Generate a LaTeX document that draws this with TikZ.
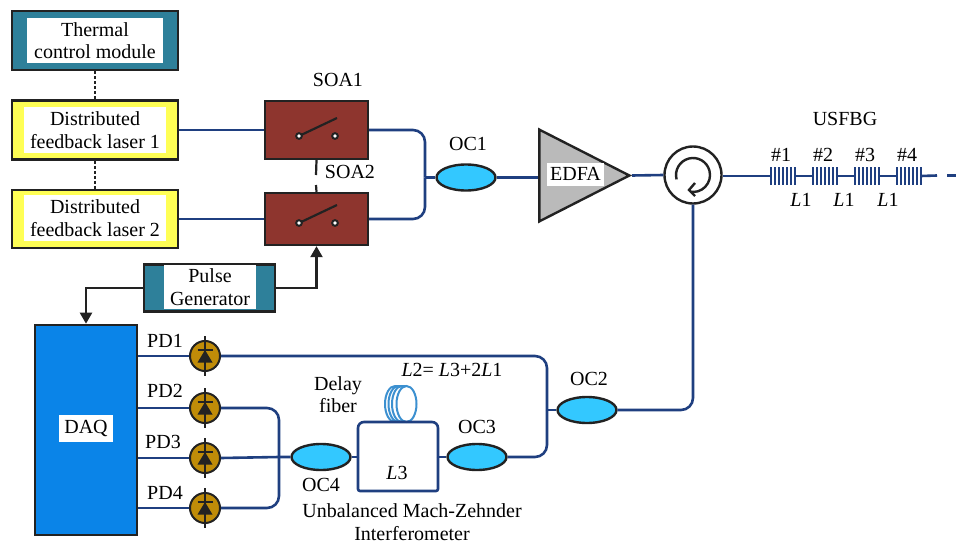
\documentclass[tikz,border=0pt]{standalone}
\usepackage{fontspec}
\setmainfont{Liberation Serif}
\usetikzlibrary{arrows.meta,shapes.geometric}
\definecolor{fibre}{HTML}{1F3F80}
\definecolor{teal1}{HTML}{2E809A}
\definecolor{yel}{HTML}{FFFF55}
\definecolor{brick}{HTML}{8E352E}
\definecolor{daqb}{HTML}{0A84E8}
\definecolor{ocb}{HTML}{33C8FF}
\definecolor{gold}{HTML}{C08C08}
\definecolor{coil}{HTML}{3C90D0}
\definecolor{edk}{HTML}{222222}
\tikzset{
 x=1pt,y=-1pt,
 lab/.style={font=\fontsize{20}{22.5}\selectfont,text=black,inner sep=0pt,align=center},
 wlab/.style={lab,fill=white},
 fiber/.style={draw=fibre,line width=2.6pt},
 blk/.style={draw=edk,line width=2.2pt},
 ctl/.style={draw=edk,line width=2.2pt,-{Triangle[length=11pt,width=12pt]}},
 dots/.style={draw=edk,line width=2.4pt,dash pattern=on 3pt off 2pt},
 boxbase/.style={draw=edk,line width=2.6pt,inner sep=0pt,minimum width=166pt},
 tealbox/.style={boxbase,fill=teal1},
 yelbox/.style={boxbase,fill=yel,minimum height=59pt},
 soa/.style={draw=edk,line width=2.4pt,fill=brick,minimum width=103pt,inner sep=0pt},
 oc/.style={ellipse,draw=edk,line width=2.4pt,fill=ocb,minimum width=59pt,minimum height=26pt,inner sep=0pt},
 pd/.style={circle,draw=edk,line width=2pt,fill=gold,minimum size=30pt,inner sep=0pt},
 coilloop/.style={draw=coil,line width=2pt},
 fbgbar/.style={draw=fibre,line width=1.9pt},
}
\newcommand{\swsym}[2]{%
 \draw[line width=2.2pt,edk] (#1,#2) -- (#1+38,#2-18);
 \filldraw[draw=edk,fill=white,line width=2pt] (#1,#2) circle (2.8);
 \filldraw[draw=edk,fill=white,line width=2pt] (#1+36,#2) circle (2.8);}
\newcommand{\diode}[3]{%
 \node[pd] (#3) at (#1,#2) {};
 \draw[edk,line width=1.8pt] (#1,#2-20) -- (#1,#2+20);
 \fill[edk] (#1-7.5,#2+6.5) -- (#1+7.5,#2+6.5) -- (#1,#2-6) -- cycle;
 \draw[edk,line width=2pt] (#1-7.5,#2-6) -- (#1+7.5,#2-6);}
\newcommand{\fbg}[2]{%
 \foreach \k in {0,4,8,12,16,20,24}{\draw[fbgbar] (#1+\k,167) -- (#1+\k,185);}
 \coordinate (#2w) at (#1,176);
 \coordinate (#2e) at (#1+24,176);}
\begin{document}
\begin{tikzpicture}
\useasboundingbox (0,0) rectangle (956,543);
\fill[white] (0,0) rectangle (956,543);

% boxes
\node[tealbox,minimum height=59pt] (therm) at (95,40.5) {};
\node[wlab,minimum width=136pt,minimum height=45pt] (thermt) at (95,40.5) {Thermal\\control module};
\node[yelbox] (dfbA) at (95,130) {};
\node[wlab,minimum width=142pt,minimum height=46pt] (dfbAt) at (95,130) {Distributed\\feedback laser 1};
\node[yelbox,minimum height=58pt] (dfbB) at (95,219) {};
\node[wlab,minimum width=142pt,minimum height=46pt] (dfbBt) at (95,218) {Distributed\\feedback laser 2};

\node[soa,minimum height=58pt] (soaA) at (316.5,130) {};
\node[soa,minimum height=52pt] (soaB) at (316.5,219) {};
\swsym{299}{136}
\swsym{299}{223}
\node[lab] (soaAt) at (338,80) {SOA1};
\node[lab] (soaBt) at (350,172) {SOA2};

\node[boxbase,fill=teal1,minimum width=131pt,minimum height=47pt] (pulse) at (209.5,288) {};
\node[wlab,minimum width=92pt,minimum height=44pt] (pulset) at (210,287) {Pulse\\Generator};

\node[draw=edk,line width=2.6pt,fill=daqb,minimum width=102pt,minimum height=210pt,inner sep=0pt] (daq) at (86,430) {};
\node[wlab,minimum width=54pt,minimum height=27pt] (daqt) at (86,428) {DAQ};

% dotted links
\draw[dots] (therm.south) -- (dfbA.north);
\draw[dots] (dfbA.south) -- (dfbB.north);

% control
\coordinate (gapA) at (316,175);
\coordinate (gapB) at (316,185);
\draw[blk] (soaA.south) -- (gapA);
\draw[blk] (gapB) -- (soaB.north);
\draw[ctl] (pulse.east) -| (soaB.south);
\draw[ctl] (pulse.west) -| (daq.north);

% optical nodes
\node[oc] (ocA) at (466,177.5) {};
\node[oc] (ocB) at (587,410) {};
\node[oc] (ocC) at (477,457) {};
\node[oc] (ocD) at (321,457) {};
\node[draw=edk,line width=2.4pt,fill=black!27,isosceles triangle,isosceles triangle apex angle=54,
      minimum height=90pt,inner sep=0pt,anchor=apex,shape border rotate=0] (edfa) at (632,175.5) {};
\node[wlab,minimum width=57pt,minimum height=23pt] (edfat) at (575.5,174) {EDFA};
\node[circle,draw=edk,line width=2.4pt,fill=white,minimum size=57pt,inner sep=0pt] (circ) at (693,175) {};
\draw[edk,line width=2.4pt] (676.6,179.4) arc[start angle=195,end angle=-100,radius=17pt];
\draw[edk,line width=2.4pt] (695,183) -- (689,190) -- (695,196);

\diode{205}{356}{pdA}
\diode{205}{408}{pdB}
\diode{205}{458}{pdC}
\diode{205}{508}{pdD}

% fibres: sources
\draw[fiber] (dfbA.east |- soaA.west) -- (soaA.west);
\draw[fiber] (dfbB.east |- soaB.west) -- (soaB.west);
\coordinate (jA) at (425,177.5);
\draw[fiber,rounded corners=12pt] (soaA.east) -| (jA);
\draw[fiber,rounded corners=12pt] (soaB.east) -| (jA);
\draw[fiber] (jA) -- (ocA.west);
\draw[fiber] (ocA.east) -- (ocA.east -| edfa.west);
\draw[fiber] (edfa.apex) -- (circ.west);

% FBG chain
\fbg{771}{fa}
\fbg{813}{fb}
\fbg{855}{fc}
\fbg{897}{fd}
\coordinate (endA) at (937,175.5);
\coordinate (endB) at (947,175.5);
\coordinate (endC) at (956,175.5);
\draw[fiber] (circ.east |- faw) -- (faw);
\draw[fiber] (fae) -- (fbw);
\draw[fiber] (fbe) -- (fcw);
\draw[fiber] (fce) -- (fdw);
\draw[fiber] (fde) -- (endA);
\draw[fiber] (endB) -- (endC);

% lower fibres
\draw[fiber] (daq.east |- pdA) -- (pdA.west);
\draw[fiber] (daq.east |- pdB) -- (pdB.west);
\draw[fiber] (daq.east |- pdC) -- (pdC.west);
\draw[fiber] (daq.east |- pdD) -- (pdD.west);

\coordinate (jD) at (279,457);
\draw[fiber,rounded corners=12pt] (pdB.east) -| (jD);
\draw[fiber,rounded corners=12pt] (pdD.east) -| (jD);
\draw[fiber] (pdC.east) -- (jD) -- (ocD.west);

\coordinate (jL) at (358,457);
\coordinate (jR) at (438,457);
\coordinate (upL) at (358,422);
\coordinate (upR) at (438,422);
\coordinate (dnL) at (358,491);
\coordinate (dnR) at (438,491);
\foreach \cx in {395,398.5,402}{\draw[coilloop] (\cx,386) arc[start angle=90,end angle=270,x radius=10pt,y radius=18pt];}
\draw[coilloop] (395,386) -- (406.5,386);
\draw[coilloop] (406.5,404) ellipse (10 and 18);
\draw[fiber] (ocD.east) -- (jL);
\draw[fiber] (jR) -- (ocC.west);
\draw[fiber,rounded corners=6pt] (jL) -- (upL) -- (upR) -- (jR);
\draw[fiber,rounded corners=2pt] (jL) -- (dnL) -- (dnR) -- (jR);

\coordinate (jB) at (547,410);
\draw[fiber,rounded corners=12pt] (pdA.east) -| (jB);
\draw[fiber,rounded corners=12pt] (ocC.east) -| (jB);
\draw[fiber] (jB) -- (ocB.west);
\draw[fiber,rounded corners=12pt] (ocB.east) -| (circ.south);

% labels
\node[lab] (ocAt) at (468,144) {OC1};
\node[lab] (ocBt) at (589,379) {OC2};
\node[lab] (ocCt) at (477,427) {OC3};
\node[lab] (ocDt) at (321,485) {OC4};
\node[lab] (usf) at (845,119) {USFBG};
\node[lab] (nA) at (781,155) {\#1};
\node[lab] (nB) at (823,155) {\#2};
\node[lab] (nC) at (865,155) {\#3};
\node[lab] (nD) at (907,155) {\#4};
\node[lab] (lA) at (801,200) {\textit{L}1};
\node[lab] (lB) at (844,200) {\textit{L}1};
\node[lab] (lC) at (888,200) {\textit{L}1};
\node[lab] (tA) at (165,341) {PD1};
\node[lab] (tB) at (165,391) {PD2};
\node[lab] (tC) at (163,442) {PD3};
\node[lab] (tD) at (165,493) {PD4};
\node[lab] (dly) at (338,394.5) {Delay\\fiber};
\node[lab] (eqn) at (452,370) {\textit{L}2= \textit{L}3+2\textit{L}1};
\node[lab] (lthree) at (397,473) {\textit{L}3};
\node[lab] (umz) at (412,522) {Unbalanced Mach-Zehnder\\Interferometer};
\end{tikzpicture}
\end{document}
